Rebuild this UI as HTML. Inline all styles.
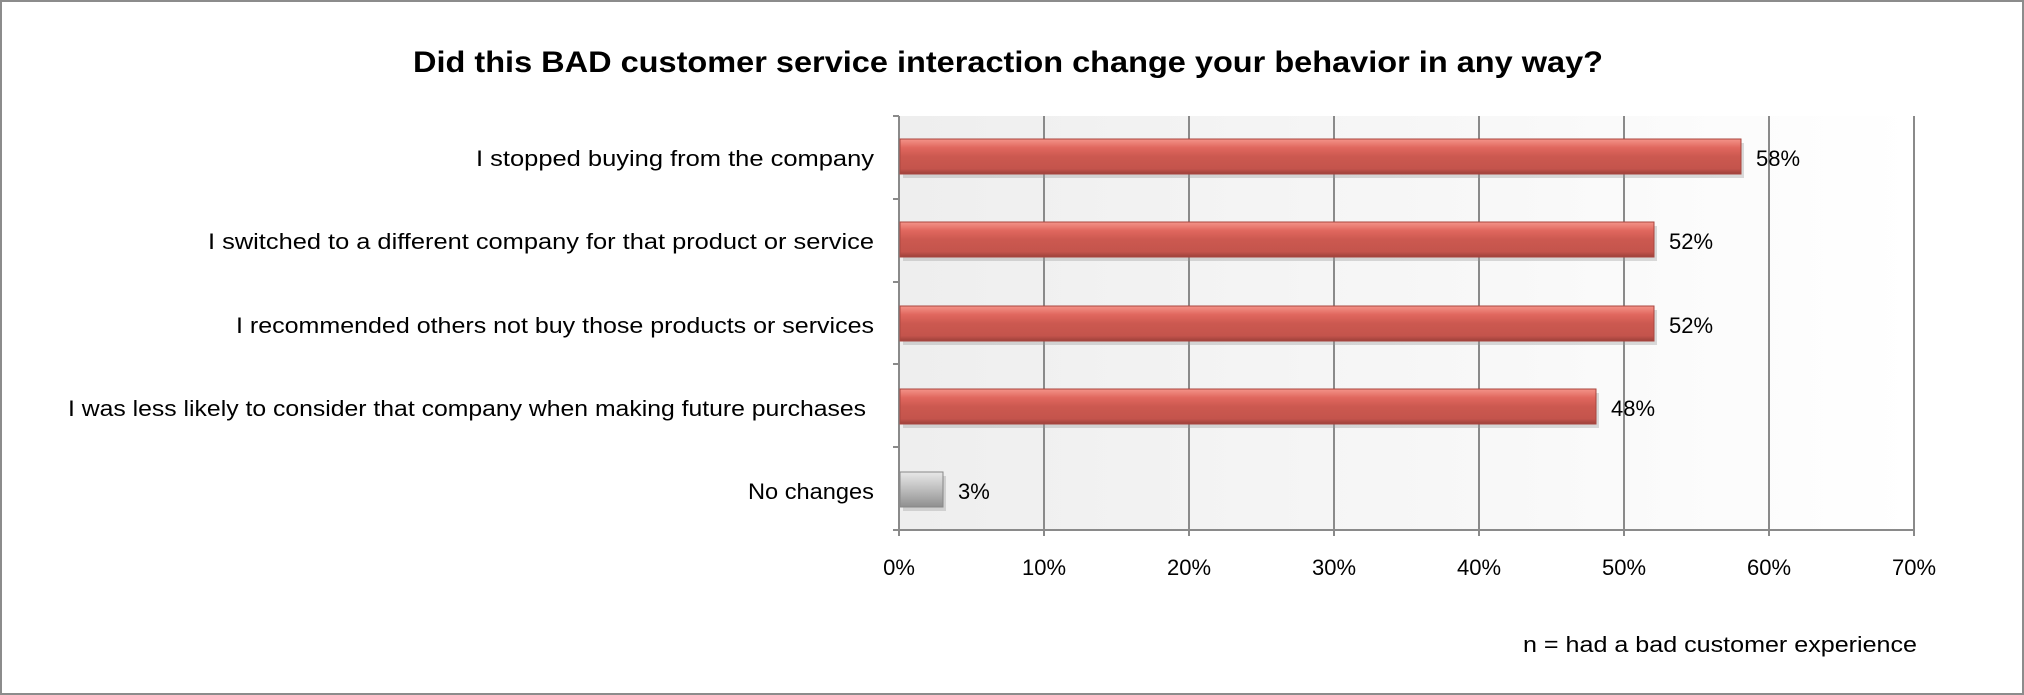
<!DOCTYPE html>
<html><head><meta charset="utf-8"><style>
html,body{margin:0;padding:0;background:#fff}
svg{display:block}
text{font-family:"Liberation Sans",sans-serif;fill:#000}
</style></head><body>
<svg width="2024" height="695" viewBox="0 0 2024 695" xmlns="http://www.w3.org/2000/svg">
<defs>
<linearGradient id="bg" x1="0" x2="1" y1="0" y2="0"><stop offset="0" stop-color="#eeeeee"/><stop offset="1" stop-color="#ffffff"/></linearGradient>
<linearGradient id="red" x1="0" x2="0" y1="0" y2="1"><stop offset="0" stop-color="#f4948a"/><stop offset="0.25" stop-color="#e0675e"/><stop offset="0.5" stop-color="#cc5950"/><stop offset="0.85" stop-color="#c4544c"/><stop offset="1" stop-color="#9c403a"/></linearGradient>
<linearGradient id="gry" x1="0" x2="0" y1="0" y2="1"><stop offset="0" stop-color="#e8e8e8"/><stop offset="0.5" stop-color="#bdbdbd"/><stop offset="1" stop-color="#8f8f8f"/></linearGradient>
</defs>
<rect x="1" y="1" width="2022" height="693" fill="#fff" stroke="#8c8c8c" stroke-width="2"/>
<text x="1008" y="72" text-anchor="middle" font-size="30" font-weight="bold" textLength="1190" lengthAdjust="spacingAndGlyphs">Did this BAD customer service interaction change your behavior in any way?</text>
<rect x="899" y="116" width="1015" height="414" fill="url(#bg)"/>
<g stroke="#8a8a8a" stroke-width="2">
<line x1="1044" y1="116" x2="1044" y2="530"/><line x1="1189" y1="116" x2="1189" y2="530"/><line x1="1334" y1="116" x2="1334" y2="530"/><line x1="1479" y1="116" x2="1479" y2="530"/><line x1="1624" y1="116" x2="1624" y2="530"/><line x1="1769" y1="116" x2="1769" y2="530"/><line x1="1914" y1="116" x2="1914" y2="530"/>
<line x1="899" y1="116" x2="899" y2="536"/><line x1="893" y1="530" x2="1914" y2="530"/>
<line x1="893" y1="116" x2="899" y2="116"/><line x1="893" y1="199" x2="899" y2="199"/><line x1="893" y1="282" x2="899" y2="282"/><line x1="893" y1="364" x2="899" y2="364"/><line x1="893" y1="447" x2="899" y2="447"/>
<line x1="1044" y1="530" x2="1044" y2="536"/><line x1="1189" y1="530" x2="1189" y2="536"/><line x1="1334" y1="530" x2="1334" y2="536"/><line x1="1479" y1="530" x2="1479" y2="536"/><line x1="1624" y1="530" x2="1624" y2="536"/><line x1="1769" y1="530" x2="1769" y2="536"/><line x1="1914" y1="530" x2="1914" y2="536"/>
</g>
<g>
<rect x="903" y="143" width="841" height="35" fill="#999" opacity="0.35"/>
<rect x="900" y="139" width="841" height="35" fill="url(#red)" stroke="#a9463f" stroke-width="1"/>
<rect x="903" y="226" width="754" height="35" fill="#999" opacity="0.35"/>
<rect x="900" y="222" width="754" height="35" fill="url(#red)" stroke="#a9463f" stroke-width="1"/>
<rect x="903" y="310" width="754" height="35" fill="#999" opacity="0.35"/>
<rect x="900" y="306" width="754" height="35" fill="url(#red)" stroke="#a9463f" stroke-width="1"/>
<rect x="903" y="393" width="696" height="35" fill="#999" opacity="0.35"/>
<rect x="900" y="389" width="696" height="35" fill="url(#red)" stroke="#a9463f" stroke-width="1"/>
<rect x="903" y="476" width="43" height="35" fill="#999" opacity="0.35"/>
<rect x="900" y="472" width="43" height="35" fill="url(#gry)" stroke="#888" stroke-width="1"/>
</g>
<g font-size="22">
<text x="1756" y="166">58%</text>
<text x="1669" y="249">52%</text>
<text x="1669" y="333">52%</text>
<text x="1611" y="416">48%</text>
<text x="958" y="499">3%</text>
</g>
<g font-size="22" text-anchor="end">
<text x="874" y="166" textLength="398" lengthAdjust="spacingAndGlyphs">I stopped buying from the company</text>
<text x="874" y="249" textLength="666" lengthAdjust="spacingAndGlyphs">I switched to a different company for that product or service</text>
<text x="874" y="333" textLength="638" lengthAdjust="spacingAndGlyphs">I recommended others not buy those products or services</text>
<text x="866" y="416" textLength="798" lengthAdjust="spacingAndGlyphs">I was less likely to consider that company when making future purchases</text>
<text x="874" y="499" textLength="126" lengthAdjust="spacingAndGlyphs">No changes</text>
</g>
<g font-size="22" text-anchor="middle">
<text x="899" y="575">0%</text><text x="1044" y="575">10%</text><text x="1189" y="575">20%</text><text x="1334" y="575">30%</text><text x="1479" y="575">40%</text><text x="1624" y="575">50%</text><text x="1769" y="575">60%</text><text x="1914" y="575">70%</text>
</g>
<text x="1917" y="652" font-size="22" text-anchor="end" textLength="394" lengthAdjust="spacingAndGlyphs">n = had a bad customer experience</text>
</svg>
</body></html>
